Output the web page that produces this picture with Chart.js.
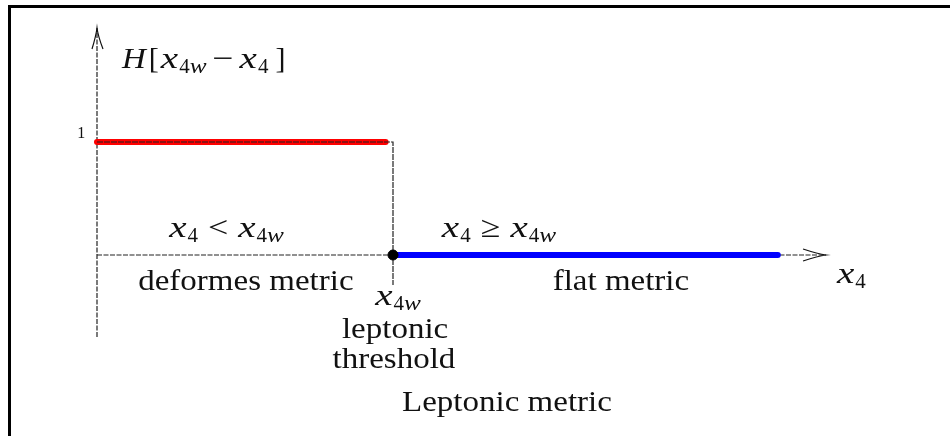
<!DOCTYPE html>
<html><head><meta charset="utf-8">
<script src="https://cdn.jsdelivr.net/npm/chart.js@4.4.1/dist/chart.umd.min.js"></script>
<style>html,body{margin:0;padding:0;background:#fff;overflow:hidden}canvas{display:block}</style>
</head><body>
<canvas id="c" width="950" height="436"></canvas>
<script>
// ---- data (x in units of the threshold x_4w, y = H value) ----
const redX = [0, 0.975];         // H = 1 region (deformed metric)
const redY = [1, 1];
const blueX = [1, 2.30];         // H = 0 region (flat metric)
const blueY = [0, 0];
const stepX = [0, 1, 1];         // Heaviside step outline
const stepY = [1, 1, -0.265];
const thresholdX = [1];
const thresholdY = [0];
const xAxisX = [0, 2.463];
const xAxisY = [0, 0];
const yAxisX = [0, 0];
const yAxisY = [-0.726, 2.009];
const yTickValues = [1];
const yTickLabels = ['1'];

const pts = (xs, ys) => xs.map((x, i) => ({x, y: ys[i]}));

const SERIF = '"Liberation Serif", "DejaVu Serif", serif';
const FS = 30, SUB = 21;

function drawMath(ctx, parts, x, y, align) {
  const fontOf = p => (p.it ? 'italic ' : '') + (p.sub ? SUB : (p.size || FS)) + 'px ' + SERIF;
  ctx.save();
  let w = 0;
  parts.forEach(p => {
    ctx.font = fontOf(p);
    w += (p.pre || 0) + ctx.measureText(p.t).width * (p.sx || 1) + (p.gap || 0);
  });
  let cx = align === 'center' ? x - w / 2 : (align === 'right' ? x - w : x);
  ctx.textAlign = 'left';
  ctx.textBaseline = 'alphabetic';
  parts.forEach(p => {
    ctx.font = fontOf(p);
    cx += (p.pre || 0);
    const s = p.sx || 1;
    ctx.save();
    ctx.translate(cx, y + (p.sub ? 5 : 0));
    ctx.scale(s, 1);
    ctx.fillText(p.t, 0, 0);
    ctx.restore();
    cx += ctx.measureText(p.t).width * s + (p.gap || 0);
  });
  ctx.restore();
}
const X4 = [{t: 'x', it: true, sx: 1.3, gap: 1}, {t: '4', sub: true}];
const X4W = [{t: 'x', it: true, sx: 1.3, gap: 1}, {t: '4', sub: true}, {t: 'w', it: true, sub: true, sx: 1.2}];
const TXT = t => ({t, sx: 1.1});

const labels = [
  {x: 0.0845, y: 1.655, align: 'left', parts: [{t: 'H', it: true, sx: 1.1, gap: 3}, {t: '[', gap: 2}, ...X4W, {t: '−', pre: 6, gap: 6, sx: 1.25}, ...X4, {t: ']', pre: 7}]},
  {x: 0.4375, y: 0.159, align: 'center', parts: [...X4, {t: '<', pre: 10, gap: 10, sx: 1.2}, ...X4W]},
  {x: 1.358, y: 0.159, align: 'center', parts: [...X4, {t: '≥', pre: 10, gap: 10, sx: 1.2}, ...X4W]},
  {x: 0.503, y: -0.310, align: 'center', parts: [TXT('deformes metric')]},
  {x: 1.770, y: -0.310, align: 'center', parts: [TXT('flat metric')]},
  {x: 1.017, y: -0.442, align: 'center', parts: X4W},
  {x: 1.007, y: -0.735, align: 'center', parts: [TXT('leptonic')]},
  {x: 1.003, y: -1.000, align: 'center', parts: [TXT('threshold')]},
  {x: 1.385, y: -1.381, align: 'center', parts: [TXT('Leptonic metric')]},
  {x: 2.500, y: -0.248, align: 'left', parts: X4},
];

const decor = {
  id: 'decor',
  beforeDraw(chart) {
    const ctx = chart.ctx;
    ctx.save();
    ctx.fillStyle = '#fff';
    ctx.fillRect(0, 0, chart.width, chart.height);
    ctx.fillStyle = '#000';
    ctx.fillRect(8, 5, chart.width - 8, 3);
    ctx.fillRect(8, 5, 3, chart.height - 5);
    ctx.restore();
  },
  afterDraw(chart) {
    const ctx = chart.ctx, sx = chart.scales.x, sy = chart.scales.y;
    ctx.save();
    ctx.strokeStyle = '#111';
    ctx.lineWidth = 1.2;
    // arrow heads
    const tipY = {x: sx.getPixelForValue(yAxisX[1]), y: sy.getPixelForValue(yAxisY[1])};
    ctx.beginPath();
    ctx.moveTo(tipY.x - 5, tipY.y + 21); ctx.quadraticCurveTo(tipY.x - 1, tipY.y + 8, tipY.x, tipY.y);
    ctx.quadraticCurveTo(tipY.x + 1, tipY.y + 8, tipY.x + 6, tipY.y + 21);
    ctx.stroke();
    const tipX = {x: sx.getPixelForValue(xAxisX[1]), y: sy.getPixelForValue(xAxisY[1])};
    ctx.beginPath();
    ctx.moveTo(tipX.x - 23, tipX.y - 6); ctx.quadraticCurveTo(tipX.x - 8, tipX.y - 1, tipX.x, tipX.y);
    ctx.quadraticCurveTo(tipX.x - 8, tipX.y + 1, tipX.x - 23, tipX.y + 6);
    ctx.stroke();
    // y tick labels
    ctx.fillStyle = '#111';
    yTickValues.forEach((v, i) => {
      ctx.font = '16px ' + SERIF;
      ctx.textAlign = 'right';
      ctx.textBaseline = 'alphabetic';
      ctx.fillText(yTickLabels[i], sx.getPixelForValue(-0.04), sy.getPixelForValue(v) - 4);
    });
    ctx.fillStyle = '#111';
    labels.forEach(l => drawMath(ctx, l.parts, sx.getPixelForValue(l.x), sy.getPixelForValue(l.y), l.align));
    ctx.restore();
  }
};

const axisStyle = {borderColor: '#222', borderWidth: 1.2, borderDash: [5, 1.5], pointRadius: 0, showLine: true, fill: false};

new Chart(document.getElementById('c'), {
  type: 'scatter',
  data: {
    datasets: [
      {data: pts(thresholdX, thresholdY), pointRadius: 5, pointBackgroundColor: '#000', pointBorderColor: '#000', showLine: false, order: 0},
      {data: pts(stepX, stepY), ...axisStyle, borderDash: [6, 1], order: 1},
      {data: pts(redX, redY), borderColor: '#ff0000', borderWidth: 6, borderCapStyle: 'round', pointRadius: 0, showLine: true, order: 2},
      {data: pts(blueX, blueY), borderColor: '#0000ff', borderWidth: 6, borderCapStyle: 'round', pointRadius: 0, showLine: true, order: 2},
      {data: pts(xAxisX, xAxisY), ...axisStyle, order: 5},
      {data: pts(yAxisX, yAxisY), ...axisStyle, order: 5},
    ]
  },
  options: {
    responsive: false,
    devicePixelRatio: 1,
    animation: false,
    layout: {padding: 0, autoPadding: false},
    plugins: {legend: {display: false}, tooltip: {enabled: false}},
    scales: {
      x: {type: 'linear', display: false, min: -97 / 296, max: -97 / 296 + 950 / 296},
      y: {type: 'linear', display: false, min: 255 / 113 - 436 / 113, max: 255 / 113}
    }
  },
  plugins: [decor]
});
</script>
</body></html>
